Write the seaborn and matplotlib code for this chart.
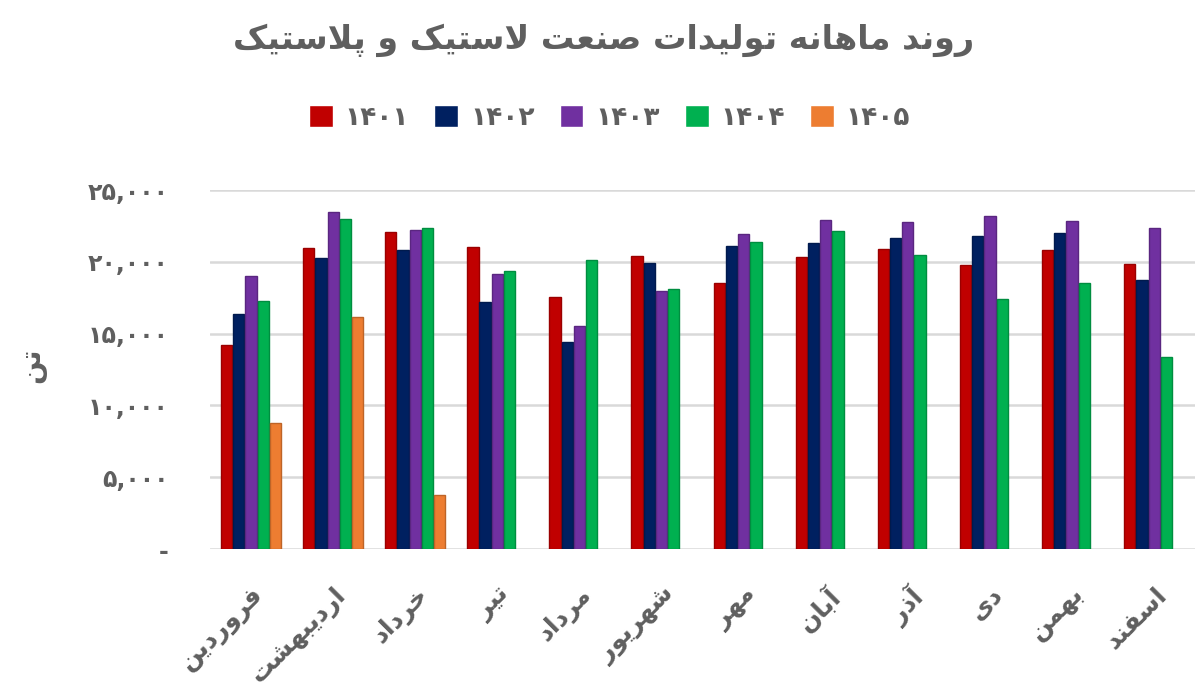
import numpy as np
import pandas as pd
import matplotlib
matplotlib.use("Agg")
import matplotlib.pyplot as plt
import matplotlib.colors as mcolors
from matplotlib.ticker import FuncFormatter, MultipleLocator
import seaborn as sns

# ---------------- data ----------------
months = ["فروردین", "اردیبهشت", "خرداد", "تیر", "مرداد", "شهریور",
          "مهر", "آبان", "آذر", "دی", "بهمن", "اسفند"]
years = ["1401", "1402", "1403", "1404", "1405"]
v1401 = [14200, 20950, 22100, 21050, 17550, 20400, 18500, 20350, 20900, 19800, 20850, 19850]
v1402 = [16350, 20250, 20800, 17200, 14450, 19900, 21100, 21300, 21650, 21800, 22000, 18750]
v1403 = [19000, 23500, 22250, 19150, 15500, 18000, 21950, 22900, 22750, 23200, 22850, 22350]
v1404 = [17300, 22950, 22350, 19350, 20100, 18100, 21400, 22150, 20450, 17400, 18500, 13350]
v1405 = [8750, 16150, 3800, None, None, None, None, None, None, None, None, None]
colors = ["#C00000", "#002060", "#7030A0", "#00B050", "#ED7D31"]
title = "روند ماهانه تولیدات صنعت لاستیک و پلاستیک"
ylabel = "تن"

# ---------------- Persian helpers ----------------
FA_DIGITS = str.maketrans("0123456789", "۰۱۲۳۴۵۶۷۸۹")

FORMS = {
    "ا": ("\uFE8D", "\uFE8E", None, None),
    "آ": ("\uFE81", "\uFE82", None, None),
    "ب": ("\uFE8F", "\uFE90", "\uFE91", "\uFE92"),
    "پ": ("\uFB56", "\uFB57", "\uFB58", "\uFB59"),
    "ت": ("\uFE95", "\uFE96", "\uFE97", "\uFE98"),
    "خ": ("\uFEA5", "\uFEA6", "\uFEA7", "\uFEA8"),
    "د": ("\uFEA9", "\uFEAA", None, None),
    "ذ": ("\uFEAB", "\uFEAC", None, None),
    "ر": ("\uFEAD", "\uFEAE", None, None),
    "ز": ("\uFEAF", "\uFEB0", None, None),
    "س": ("\uFEB1", "\uFEB2", "\uFEB3", "\uFEB4"),
    "ش": ("\uFEB5", "\uFEB6", "\uFEB7", "\uFEB8"),
    "ص": ("\uFEB9", "\uFEBA", "\uFEBB", "\uFEBC"),
    "ع": ("\uFEC9", "\uFECA", "\uFECB", "\uFECC"),
    "ف": ("\uFED1", "\uFED2", "\uFED3", "\uFED4"),
    "ک": ("\uFB8E", "\uFB8F", "\uFB90", "\uFB91"),
    "ل": ("\uFEDD", "\uFEDE", "\uFEDF", "\uFEE0"),
    "م": ("\uFEE1", "\uFEE2", "\uFEE3", "\uFEE4"),
    "ن": ("\uFEE5", "\uFEE6", "\uFEE7", "\uFEE8"),
    "ه": ("\uFEE9", "\uFEEA", "\uFEEB", "\uFEEC"),
    "و": ("\uFEED", "\uFEEE", None, None),
    "ی": ("\uFBFC", "\uFBFD", "\uFBFE", "\uFBFF"),
}


def fa(text):
    """Shape Persian letters into presentation forms and order them visually."""
    ch = list(text)
    n = len(ch)
    out = []
    i = 0
    while i < n:
        c = ch[i]
        if c not in FORMS:
            out.append(c)
            i += 1
            continue
        prev = ch[i - 1] if i > 0 else None
        prev_join = prev in FORMS and FORMS[prev][2] is not None
        if c == "ل" and i + 1 < n and ch[i + 1] in ("ا", "آ"):
            lig = ("\uFEFB", "\uFEFC") if ch[i + 1] == "ا" else ("\uFEF5", "\uFEF6")
            out.append(lig[1] if prev_join else lig[0])
            i += 2
            continue
        nxt = ch[i + 1] if i + 1 < n else None
        next_join = FORMS[c][2] is not None and nxt in FORMS
        iso, fin, ini, med = FORMS[c]
        if prev_join and next_join:
            g = med
        elif prev_join:
            g = fin
        elif next_join:
            g = ini
        else:
            g = iso
        out.append(g)
        i += 1
    return "".join(reversed(out))


# ---------------- dataframe ----------------
years_fa = [y.translate(FA_DIGITS) for y in years]
series = [v1401, v1402, v1403, v1404, v1405]
rows = []
for y, vals in zip(years_fa, series):
    for m, v in zip(months, vals):
        rows.append({"month": m, "year": y, "value": np.nan if v is None else v})
df = pd.DataFrame(rows)

# ---------------- plot ----------------
sns.set_theme(style="white")
plt.rcParams["font.family"] = ["DejaVu Sans"]
TXT = "#5f5f5f"

fig = plt.figure(figsize=(12, 6.96), dpi=100)
ax = fig.add_axes([0.175, 0.211, 0.821, 0.516])

sns.barplot(data=df, x="month", y="value", hue="year", order=months,
            hue_order=years_fa, palette=dict(zip(years_fa, colors)),
            width=0.745, gap=0.08, saturation=1, errorbar=None, ax=ax,
            zorder=3)

for cont, col in zip(ax.containers, colors):
    edge = tuple(c * 0.8 for c in mcolors.to_rgb(col))
    for p in cont:
        p.set_edgecolor(edge)
        p.set_linewidth(1.0)

ax.set_ylim(0, 25000)
ax.set_xlim(-0.5, 11.5)
ax.yaxis.set_major_locator(MultipleLocator(5000))
ax.yaxis.set_major_formatter(FuncFormatter(
    lambda v, p: "-" if v == 0 else f"{int(v):,}".translate(FA_DIGITS)))
ax.grid(axis="y", color="#d9d9d9", linewidth=1.8, zorder=0)
ax.set_axisbelow(True)
for s in ax.spines.values():
    s.set_visible(False)
ax.tick_params(axis="both", length=0)
ax.tick_params(axis="y", pad=30, labelsize=17, labelcolor=TXT)
ax.set_xticks(range(len(months)))
ax.set_xticklabels([fa(m) for m in months], rotation=45, ha="right",
                   rotation_mode="anchor", fontsize=18, fontweight="bold",
                   color=TXT)
ax.tick_params(axis="x", pad=24)
for lab in ax.get_yticklabels():
    lab.set_fontweight("bold")
ax.set_xlabel("")
ax.set_ylabel("")

fig.text(0.027, 0.475, fa(ylabel), rotation=90, fontsize=20, fontweight="bold",
         color=TXT, ha="center", va="center")
fig.text(0.503, 0.942, fa(title), fontsize=24, fontweight="bold", color=TXT,
         ha="center", va="center")

handles, labels = ax.get_legend_handles_labels()
if ax.legend_:
    ax.legend_.remove()
fig.legend(handles, labels, loc="center", bbox_to_anchor=(0.508, 0.83), ncol=5,
           frameon=False, handlelength=0.9, handleheight=0.9,
           columnspacing=0.95, handletextpad=0.45, labelcolor=TXT,
           prop={"weight": "bold", "size": 19})

fig.savefig("out.png", dpi=100)
